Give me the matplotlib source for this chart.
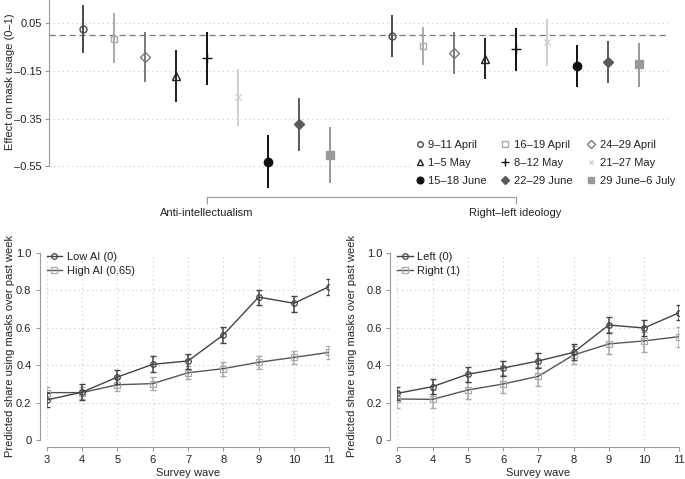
import matplotlib
matplotlib.use("Agg")
import matplotlib.pyplot as plt

plt.rcParams['font.family'] = ['Liberation Sans', 'DejaVu Sans']
plt.rcParams['font.size'] = 8

# ---------------- data ----------------
wave_labels = ["9\u201311 April", "16\u201319 April", "24\u201329 April",
               "1\u20135 May", "8\u201312 May", "21\u201327 May",
               "15\u201318 June", "22\u201329 June", "29 June\u20136 July"]
group_labels = ["Anti-intellectualism", "Right\u2013left ideology"]

ai_est = [0.026, -0.014, -0.092, -0.171, -0.097, -0.258, -0.532, -0.375, -0.504]
ai_lo = [-0.076, -0.118, -0.198, -0.282, -0.209, -0.380, -0.644, -0.485, -0.621]
ai_hi = [0.126, 0.092, 0.012, -0.064, 0.015, -0.142, -0.420, -0.263, -0.386]
rl_est = [-0.002, -0.044, -0.073, -0.099, -0.059, -0.030, -0.129, -0.113, -0.122]
rl_lo = [-0.090, -0.127, -0.162, -0.185, -0.150, -0.128, -0.219, -0.202, -0.216]
rl_hi = [0.085, 0.036, 0.012, -0.013, 0.032, 0.068, -0.040, -0.023, -0.034]

top_yticks = [0.05, -0.15, -0.35, -0.55]
top_yticklabels = ["0.05", "\u20130.15", "\u20130.35", "\u20130.55"]

waves = [3, 4, 5, 6, 7, 8, 9, 10, 11]
low_ai = [0.214, 0.255, 0.336, 0.404, 0.422, 0.561, 0.763, 0.730, 0.819]
low_ai_lo = [0.178, 0.214, 0.299, 0.361, 0.379, 0.516, 0.721, 0.685, 0.776]
low_ai_hi = [0.249, 0.297, 0.375, 0.447, 0.461, 0.605, 0.803, 0.771, 0.861]
high_ai = [0.253, 0.253, 0.295, 0.301, 0.359, 0.381, 0.415, 0.441, 0.468]
high_ai_lo = [0.221, 0.219, 0.260, 0.267, 0.324, 0.342, 0.379, 0.406, 0.432]
high_ai_hi = [0.285, 0.285, 0.329, 0.335, 0.395, 0.418, 0.448, 0.477, 0.504]
left_id = [0.249, 0.285, 0.351, 0.384, 0.422, 0.468, 0.614, 0.598, 0.680]
left_id_lo = [0.214, 0.244, 0.311, 0.343, 0.383, 0.425, 0.572, 0.557, 0.639]
left_id_hi = [0.285, 0.324, 0.390, 0.423, 0.464, 0.511, 0.655, 0.641, 0.719]
right_id = [0.219, 0.217, 0.267, 0.299, 0.340, 0.454, 0.513, 0.529, 0.552]
right_id_lo = [0.171, 0.169, 0.217, 0.251, 0.288, 0.405, 0.459, 0.472, 0.498]
right_id_hi = [0.263, 0.267, 0.311, 0.345, 0.391, 0.502, 0.575, 0.575, 0.602]

bottom_yticks = [0, 0.2, 0.4, 0.6, 0.8, 1.0]
bottom_yticklabels = ["0", "0.2", "0.4", "0.6", "0.8", "1.0"]

# ---------------- styles ----------------
W, H = 685, 479
TXT = "#222222"
SPINE = "#9a9a9a"
GRID = "#c8c8c8"

styles = [
    dict(marker='o', mfc='none', mec='#4a4a4a', color='#4a4a4a', ms=5),
    dict(marker='s', mfc='none', mec='#aaaaaa', color='#aaaaaa', ms=5),
    dict(marker='D', mfc='none', mec='#7a7a7a', color='#7a7a7a', ms=5),
    dict(marker='^', mfc='none', mec='#222222', color='#222222', ms=5.5),
    dict(marker='+', mfc='none', mec='#111111', color='#111111', ms=7, mew=1.0),
    dict(marker='x', mfc='none', mec='#cfcfcf', color='#cfcfcf', ms=4, mew=1.0),
    dict(marker='o', mfc='#111111', mec='#111111', color='#111111', ms=6),
    dict(marker='D', mfc='#5a5a5a', mec='#5a5a5a', color='#5a5a5a', ms=5.5),
    dict(marker='s', mfc='#999999', mec='#999999', color='#999999', ms=5.5),
]

fig = plt.figure(figsize=(W / 100, H / 100), dpi=100)


def px_axes(x0, y0, x1, y1):
    return fig.add_axes([x0 / W, 1 - y1 / H, (x1 - x0) / W, (y1 - y0) / H])


# ---------------- top panel ----------------
ax = px_axes(49, 0, 668, 196.7)
ax.set_xlim(-0.1, 19.93)
ax.set_ylim(-0.6786, 0.148)
for yt in top_yticks:
    ax.axhline(yt, color=GRID, lw=0.8, ls=(0, (1, 3)), zorder=0)
ax.axhline(0, color='#777777', lw=0.9, ls=(0, (5, 3)), zorder=1)

handles = []
for g, (est, lo, hi) in enumerate([(ai_est, ai_lo, ai_hi), (rl_est, rl_lo, rl_hi)]):
    for i in range(len(wave_labels)):
        xpos = 1 + i + 10 * g
        st = styles[i]
        ax.vlines(xpos, lo[i], hi[i], color=st['color'], lw=1.4, zorder=2)
        h, = ax.plot([xpos], [est[i]], ls='none', marker=st['marker'], mfc=st['mfc'],
                     mec=st['mec'], ms=st['ms'], mew=st.get('mew', 1.0), zorder=3,
                     label=wave_labels[i])
        if g == 0:
            handles.append(h)

for s in ['top', 'right']:
    ax.spines[s].set_visible(False)
ax.spines['left'].set_color(SPINE)
ax.spines['left'].set_bounds(-0.55, 0.148)
ax.spines['bottom'].set_color(SPINE)
ax.spines['bottom'].set_bounds(5, 15)
ax.set_yticks(top_yticks)
ax.set_yticklabels(top_yticklabels)
ax.set_xticks([5, 15])
ax.set_xticklabels(group_labels)
ax.tick_params(axis='y', length=3, color=SPINE, labelcolor=TXT, labelsize=8, pad=2)
ax.tick_params(axis='x', length=5, color=SPINE, labelcolor=TXT, labelsize=8, pad=3)
ax.patch.set_alpha(0)

order = [0, 3, 6, 1, 4, 7, 2, 5, 8]
leg = ax.legend([handles[k] for k in order], [wave_labels[k] for k in order],
                ncol=3, loc='upper left', bbox_to_anchor=((414 - 49) / 619, 1 - 139 / 196.7),
                frameon=True, fancybox=False, edgecolor='none', facecolor='white',
                framealpha=1, handlelength=0.8, handletextpad=0.4, columnspacing=1.25,
                labelspacing=0.72, borderpad=0.1, borderaxespad=0, fontsize=8,
                markerscale=0.8)
for t in leg.get_texts():
    t.set_color(TXT)

fig.text(10 / W, 1 - 82 / H, "Effect on mask usage (0\u20131)", rotation=90,
         ha='center', va='center', color=TXT, fontsize=8)


# ---------------- bottom panels ----------------
def bottom_panel(x0, x1, ser_a, ser_b, lab_a, lab_b, ylabel_x):
    bx = px_axes(x0, 252.7, x1, 440)
    bx.set_xlim(3, 11)
    bx.set_ylim(0, 1)
    for yt in [0.2, 0.4, 0.6, 0.8]:
        bx.axhline(yt, color=GRID, lw=0.8, ls=(0, (1, 3)), zorder=0)
    for xw in waves:
        bx.axvline(xw, color=GRID, lw=0.8, ls=(0, (1, 3)), zorder=0)
    est, lo, hi = ser_b
    bx.errorbar(waves, est, yerr=[[e - l for e, l in zip(est, lo)], [h - e for e, h in zip(est, hi)]],
                fmt='none', ecolor='#aaaaaa', elinewidth=1.1, capsize=2.5, capthick=1.0, zorder=2)
    hb, = bx.plot(waves, est, color='#555555', lw=1.0, marker='s', ms=4, mfc='none',
                  mec='#aaaaaa', mew=0.9, zorder=3, label=lab_b)
    est, lo, hi = ser_a
    bx.errorbar(waves, est, yerr=[[e - l for e, l in zip(est, lo)], [h - e for e, h in zip(est, hi)]],
                fmt='none', ecolor='#444444', elinewidth=1.1, capsize=2.5, capthick=1.0, zorder=4)
    ha, = bx.plot(waves, est, color='#444444', lw=1.0, marker='o', ms=4, mfc='none',
                  mec='#444444', mew=0.9, zorder=5, label=lab_a)
    for s in ['top', 'right']:
        bx.spines[s].set_visible(False)
    for s in ['left', 'bottom']:
        bx.spines[s].set_color(SPINE)
        bx.spines[s].set_position(('outward', 5))
    bx.set_yticks(bottom_yticks)
    bx.set_yticklabels(bottom_yticklabels)
    bx.set_xticks(waves)
    bx.tick_params(axis='both', length=3, color=SPINE, labelcolor=TXT, labelsize=8)
    bx.tick_params(axis='y', pad=3)
    bx.tick_params(axis='x', pad=3)
    bx.set_xlabel("Survey wave", color=TXT, fontsize=8, labelpad=2)
    fig.text(ylabel_x / W, 1 - 346 / H, "Predicted share using masks over past week",
             rotation=90, ha='center', va='center', color=TXT, fontsize=8)
    lg = bx.legend([ha, hb], [lab_a, lab_b], loc='upper left', bbox_to_anchor=(0, 1.005),
                   frameon=False, handlelength=1.4, handletextpad=0.4, labelspacing=0.4,
                   borderpad=0, borderaxespad=0, fontsize=8)
    for t in lg.get_texts():
        t.set_color(TXT)
    bx.patch.set_alpha(0)
    return bx


bottom_panel(46.7, 329.3, (low_ai, low_ai_lo, low_ai_hi), (high_ai, high_ai_lo, high_ai_hi),
             "Low AI (0)", "High AI (0.65)", 10)
bottom_panel(397.3, 679.3, (left_id, left_id_lo, left_id_hi), (right_id, right_id_lo, right_id_hi),
             "Left (0)", "Right (1)", 352)

fig.savefig("out.png", dpi=100)
